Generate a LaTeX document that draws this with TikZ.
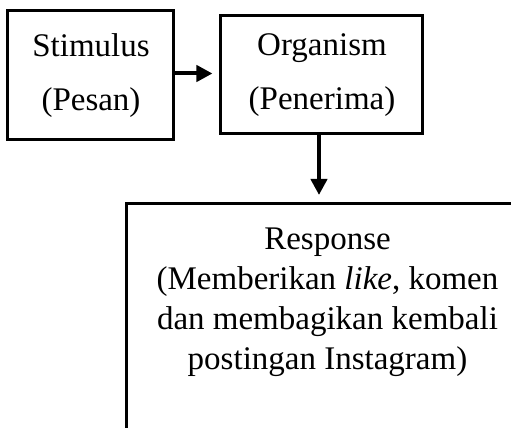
\documentclass[tikz,border=0pt]{standalone}
\usepackage{fontspec}
\setmainfont{Liberation Serif}
\usetikzlibrary{arrows.meta}

\begin{document}
\begin{tikzpicture}[x=0.5pt, y=-0.5pt, >={Triangle[length=8pt, width=8pt]}, line width=1.5pt]

\tikzstyle{every node}=[rectangle, draw=black, align=center, inner sep=0pt, font=\fontsize{16.5}{27}\selectfont]
\clip (0,0) rectangle (511,428);
\draw    (91,  75.5)  node[minimum width=83pt, minimum height=64.5pt] (stim) {Stimulus\\(Pesan)}
         (322, 75)    node[minimum width=101pt, minimum height=59pt] (orga) {Organism\\(Penerima)}
         (125, 202)   node[anchor=north west, minimum width=201pt, inner ysep=12pt, text depth=100pt,
                           font=\fontsize{16.5}{20}\selectfont] (resp)
                      {Response\\(Memberikan \textit{like}, komen\\dan membagikan kembali\\postingan Instagram)};

\draw[->, line width=2pt, shorten >=3.5pt] ([yshift=1pt]stim.east) -- ([yshift=1pt]stim.east -| orga.west);
\draw[->, line width=2pt, shorten >=3.5pt] ([xshift=-1.5pt]orga.south) -- ([xshift=-1.5pt]orga.south |- resp.north);

\end{tikzpicture}
\end{document}
